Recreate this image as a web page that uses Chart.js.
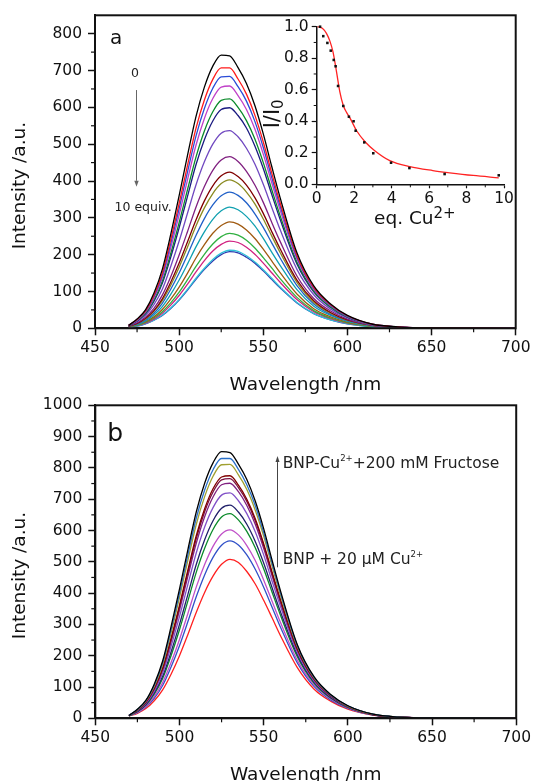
<!DOCTYPE html>
<html><head><meta charset="utf-8">
<script src="https://cdn.jsdelivr.net/npm/chart.js@4.4.1/dist/chart.umd.min.js"></script>
<style>
html,body{margin:0;padding:0;background:#fff;width:534px;height:781px;overflow:hidden;}
canvas{position:absolute;}
#cA{left:0;top:0;} #cB{left:0;top:390px;} #cC{left:250px;top:0;}
</style></head><body>
<canvas id="cA" width="534" height="400"></canvas>
<canvas id="cB" width="534" height="400"></canvas>
<canvas id="cC" width="284" height="240"></canvas>
<script>
// ---------- data ----------
const wavelength = [470,475,480,485,490,495,500,505,510,515,520,525,530,535,540,545,550,555,560,570,580,590,600,615,630,650,700];

// panel a: 0 -> 10 equiv. Cu2+
const a0  = [8,25,50,95,160,255,360,470,575,655,712,742,740,708,665,605,528,440,355,205,115,66,35,11,4,1,0];
const a1  = [8,24,47,89,150,240,339,443,543,620,676,707,707,677,636,579,506,422,341,198,111,64,34,11,4,1,0];
const a2  = [8,23,46,86,144,230,325,425,522,597,652,683,684,656,617,562,491,410,332,193,109,62,33,11,4,1,0];
const a3  = [8,22,44,82,137,218,308,404,497,570,624,655,658,632,594,541,473,396,321,188,106,61,32,10,4,1,0];
const a4  = [7,21,41,77,128,203,287,377,465,536,588,619,623,600,564,514,450,377,306,180,102,58,31,10,3,1,0];
const a5  = [7,20,39,73,122,193,273,359,444,512,563,594,599,578,544,495,434,364,296,175,99,57,30,10,3,1,0];
const a6  = [7,18,35,64,106,168,237,313,389,452,500,530,537,520,489,446,391,329,268,160,91,52,28,9,3,1,0];
const a7  = [6,15,30,54,90,140,199,263,329,385,429,457,466,453,426,389,342,288,236,142,81,47,25,8,3,1,0];
const a8  = [6,13,27,48,80,125,177,235,294,346,387,414,424,412,389,355,312,263,216,131,75,43,23,8,3,1,0];
const a9  = [5,13,25,46,75,117,166,221,278,327,366,393,403,393,370,338,297,251,206,125,71,41,22,7,3,1,0];
const a10 = [5,12,23,41,68,106,150,200,252,298,335,360,370,361,341,311,274,232,191,116,66,38,21,7,2,1,0];
const a11 = [5,10,20,36,59,92,131,175,221,262,296,319,329,322,304,278,244,207,171,105,60,35,19,6,2,1,0];
const a12 = [4,9,18,31,51,79,112,150,191,227,258,279,289,283,267,244,215,183,151,93,53,31,17,6,2,1,0];
const a13 = [4,8,16,28,45,69,98,132,168,201,229,249,258,253,239,218,192,164,135,84,48,28,15,5,2,1,0];
const a14 = [4,7,14,25,41,63,89,120,153,184,210,228,237,233,220,201,177,151,125,78,45,26,14,5,2,0,0];
const a15 = [3,6,13,22,36,55,78,106,136,163,187,204,212,209,197,180,159,136,112,70,40,23,13,4,1,0,0];
const a16 = [3,6,12,22,35,54,77,104,133,160,183,200,208,205,193,177,156,133,110,69,40,23,12,4,1,0,0];

// panel b: BNP + 20 uM Cu2+ -> + 200 mM fructose
const b0  = [9,29,57,109,183,293,413,539,660,752,817,852,849,812,763,694,606,505,407,235,132,75,40,13,4,1,0];
const b1  = [9,28,56,105,177,283,399,522,640,730,795,830,830,795,746,680,593,495,400,232,130,74,40,13,4,1,0];
const b2  = [9,27,54,102,172,273,386,505,620,709,774,810,811,778,731,665,582,486,393,229,128,74,39,13,4,1,0];
const b3  = [9,26,51,96,161,256,361,474,584,670,734,771,775,745,700,638,558,467,379,222,125,72,38,12,4,1,0];
const b4  = [9,26,51,95,158,251,355,466,575,661,724,762,766,737,693,631,552,462,375,220,124,71,38,12,4,1,0];
const b5  = [9,25,49,92,154,244,345,454,560,645,708,746,751,724,680,620,543,455,369,218,123,70,38,12,4,1,0];
const b6  = [9,24,47,87,145,230,325,428,529,612,674,713,720,695,654,596,522,438,357,211,119,69,37,12,4,1,0];
const b7  = [9,22,44,81,134,212,300,396,492,571,632,671,681,659,620,565,496,417,340,203,115,66,36,12,4,1,0];
const b8  = [8,21,42,77,127,200,283,375,467,544,604,643,654,634,597,545,478,403,329,197,112,64,35,11,4,1,0];
const b9  = [8,19,38,69,114,178,252,335,420,492,550,589,602,586,552,504,442,374,306,185,106,61,33,11,4,1,0];
const b10 = [8,18,36,64,105,164,232,309,389,459,515,553,567,554,522,476,419,355,291,177,101,58,32,10,4,1,0];
const b11 = [7,16,31,56,91,141,200,268,339,403,455,492,508,498,469,429,377,321,264,162,93,54,29,10,4,1,0];

// inset: I/I0 vs eq. Cu2+
const eqCu   = [0.18,0.35,0.57,0.75,0.91,1.01,1.14,1.42,1.72,1.97,2.08,2.54,3.02,3.97,4.95,6.83,9.72];
const relI   = [1.0,0.94,0.897,0.848,0.789,0.749,0.624,0.497,0.429,0.40,0.34,0.266,0.197,0.137,0.103,0.065,0.057];
const fitEq  = [0.05,0.3,0.52,0.7,0.87,1.05,1.23,1.42,1.6,1.78,2.14,2.58,3.1,3.9,4.97,6.2,7.1,8.35,9.72];
const fitRel = [1.0,0.99,0.958,0.91,0.84,0.72,0.59,0.5,0.455,0.42,0.338,0.27,0.213,0.15,0.112,0.087,0.073,0.056,0.041];

const seriesA = [a0,a1,a2,a3,a4,a5,a6,a7,a8,a9,a10,a11,a12,a13,a14,a15,a16];
const seriesB = [b0,b1,b2,b3,b4,b5,b6,b7,b8,b9,b10,b11];
const colorsA = ['#000000','#ff1a1a','#2a4bd7','#c040c8','#0a8a2a','#1a1a80','#7048c0','#802080','#800000','#8a8a20','#2060c8','#10a0b0','#a05a10','#30b040','#d02080','#30c0d8','#3038b0'];
const colorsB = ['#000000','#2a70c8','#a0a030','#800000','#7a1040','#802080','#8050c8','#20206a','#0a8a2a','#c050c8','#3050c8','#ff2020'];

const xTitle = 'Wavelength /nm';
const yTitle = 'Intensity /a.u.';

// ---------- helpers ----------
const FAM = "'DejaVu Sans', sans-serif";
Chart.defaults.font.family = FAM;
Chart.defaults.color = '#111';

function rich(ctx, x, y, parts, rot) {
  ctx.save(); ctx.translate(x, y); if (rot) ctx.rotate(rot);
  ctx.textAlign = 'left'; ctx.textBaseline = 'alphabetic';
  let cx = 0;
  for (const p of parts) {
    ctx.font = p.size + 'px ' + FAM; ctx.fillStyle = p.color || '#111';
    ctx.fillText(p.text, cx, p.dy || 0);
    cx += ctx.measureText(p.text).width;
  }
  ctx.restore();
}
function centered(ctx, str, x, y, size, rot) {
  ctx.save(); ctx.translate(x, y); if (rot) ctx.rotate(rot);
  ctx.font = size + 'px ' + FAM; ctx.fillStyle = '#111';
  ctx.textAlign = 'center'; ctx.textBaseline = 'middle';
  ctx.fillText(str, 0, 0); ctx.restore();
}
function arrow(ctx, x, yFrom, yTip, color, hl, hw) {
  x = Math.round(x) + 0.5;
  const dir = Math.sign(yTip - yFrom);
  ctx.save(); ctx.strokeStyle = color; ctx.fillStyle = color; ctx.lineWidth = 1;
  ctx.beginPath(); ctx.moveTo(x, yFrom); ctx.lineTo(x, yTip - dir * hl); ctx.stroke();
  ctx.beginPath(); ctx.moveTo(x, yTip); ctx.lineTo(x - hw, yTip - dir * hl); ctx.lineTo(x + hw, yTip - dir * hl); ctx.closePath(); ctx.fill();
  ctx.restore();
}
const framePlugin = { id: 'frame', afterDraw(chart) {
  const { ctx, chartArea: a } = chart;
  ctx.save(); ctx.strokeStyle = '#111'; ctx.lineWidth = 2;
  ctx.strokeRect(a.left, a.top, a.right - a.left, a.bottom - a.top); ctx.restore();
}};
function minorPlugin(len, width) {
  return { id: 'minor', afterDraw(chart) {
    const ctx = chart.ctx;
    ctx.save(); ctx.strokeStyle = '#111'; ctx.lineWidth = width;
    for (const id of ['x', 'y']) {
      const s = chart.scales[id];
      const v = s.ticks.map(t => t.value);
      for (let i = 0; i < v.length - 1; i++) {
        const p = s.getPixelForValue((v[i] + v[i + 1]) / 2);
        ctx.beginPath();
        if (s.isHorizontal()) { ctx.moveTo(p, s.top); ctx.lineTo(p, s.top + len); }
        else { ctx.moveTo(s.right, p); ctx.lineTo(s.right - len, p); }
        ctx.stroke();
      }
    }
    ctx.restore();
  }};
}

function mainChart(id, series, colors, yMax, padTop, padRight, leftW, ann) {
  return new Chart(document.getElementById(id), {
    type: 'line',
    data: { datasets: series.map((s, i) => ({
      data: wavelength.map((w, j) => ({ x: w, y: s[j] })),
      borderColor: colors[i], borderWidth: 1.3, pointRadius: 0,
      cubicInterpolationMode: 'monotone', fill: false
    })) },
    options: {
      responsive: false, animation: false, devicePixelRatio: 1,
      layout: { padding: { left: 0, top: padTop, right: padRight, bottom: 0 } },
      plugins: { legend: { display: false }, tooltip: { enabled: false } },
      scales: {
        x: { type: 'linear', min: 450, max: 700,
          ticks: { stepSize: 50, font: { size: 15.5 }, color: '#111', padding: 3, maxRotation: 0, autoSkip: false, callback: v => String(v) },
          grid: { drawOnChartArea: false, drawTicks: true, tickLength: 7, tickWidth: 1.5, tickColor: '#111' },
          border: { display: true, color: '#111', width: 2 },
          title: { display: true, text: xTitle, font: { size: 18.5 }, color: '#111', padding: { top: 0, bottom: 4 } },
          afterFit(s) { s.height = 71.7; } },
        y: { type: 'linear', min: 0, max: yMax,
          ticks: { stepSize: 100, font: { size: 15.5 }, color: '#111', padding: 6, callback: v => String(v) },
          afterBuildTicks(s) { s.ticks = s.ticks.filter(t => t.value % 100 === 0); },
          grid: { drawOnChartArea: false, drawTicks: true, tickLength: 7, tickWidth: 1.5, tickColor: '#111' },
          border: { display: true, color: '#111', width: 2 },
          title: { display: false },
          afterFit(s) { s.width = leftW; } }
      }
    },
    plugins: [framePlugin, minorPlugin(4, 1.2), ann]
  });
}

// panel a annotations
const annA = { id: 'annA', afterDraw(chart) {
  const { ctx, scales: { x, y } } = chart;
  centered(ctx, yTitle, y.left + 20.3, y.getPixelForValue(387.5), 18.5, -Math.PI / 2);
  rich(ctx, x.getPixelForValue(458.9), y.getPixelForValue(773), [{ text: 'a', size: 20 }]);
  ctx.save(); ctx.font = '12.5px ' + FAM; ctx.fillStyle = '#222'; ctx.textAlign = 'center';
  ctx.fillText('0', x.getPixelForValue(473.8), y.getPixelForValue(682.8)); ctx.restore();
  arrow(ctx, x.getPixelForValue(474.2), y.getPixelForValue(647), y.getPixelForValue(384.3), '#666', 6, 2.2);
  rich(ctx, x.getPixelForValue(461.6), y.getPixelForValue(318.3), [{ text: '10 equiv.', size: 12.5, color: '#222' }]);
}};
// panel b annotations
const annB = { id: 'annB', afterDraw(chart) {
  const { ctx, scales: { x, y } } = chart;
  centered(ctx, yTitle, y.left + 20.3, y.getPixelForValue(456), 18.5, -Math.PI / 2);
  rich(ctx, x.getPixelForValue(457.1), y.getPixelForValue(885.5), [{ text: 'b', size: 25 }]);
  arrow(ctx, x.getPixelForValue(557.8), y.getPixelForValue(482.3), y.getPixelForValue(837.7), '#444', 6, 2);
  rich(ctx, x.getPixelForValue(561.3), y.getPixelForValue(798.6), [
    { text: 'BNP-Cu', size: 15.5, color: '#222' }, { text: '2+', size: 8.5, dy: -7, color: '#222' },
    { text: '+200 mM Fructose', size: 15.5, color: '#222' }]);
  rich(ctx, x.getPixelForValue(561.3), y.getPixelForValue(493.2), [
    { text: 'BNP + 20 \u03BCM Cu', size: 15.5, color: '#222' }, { text: '2+', size: 8.5, dy: -7, color: '#222' }]);
}};

mainChart('cA', seriesA, colorsA, 850, 15, 18.3, 95, annA);
mainChart('cB', seriesB, colorsB, 1000, 14, 16.5, 95.3, annB);

// inset
const annC = { id: 'annC', afterDraw(chart) {
  const { ctx, scales: { x, y } } = chart;
  rich(ctx, x.getPixelForValue(3.06), y.getPixelForValue(-0.249), [
    { text: 'eq. Cu', size: 18.5 }, { text: '2+', size: 15, dy: -6 }]);
  rich(ctx, x.getPixelForValue(-2.01), y.getPixelForValue(0.355), [
    { text: 'I/I', size: 21 }, { text: '0', size: 15, dy: 4 }], -Math.PI / 2);
}};
new Chart(document.getElementById('cC'), {
  type: 'scatter',
  data: { datasets: [
    { data: eqCu.map((v, i) => ({ x: v, y: relI[i] })), pointStyle: 'rect', pointRadius: 1.8,
      backgroundColor: '#111', borderWidth: 0, showLine: false, clip: false },
    { data: fitEq.map((v, i) => ({ x: v, y: fitRel[i] })), showLine: true, borderColor: '#ff2222',
      borderWidth: 1.3, pointRadius: 0, cubicInterpolationMode: 'monotone', clip: false }
  ] },
  options: {
    responsive: false, animation: false, devicePixelRatio: 1,
    layout: { padding: { left: 0, top: 26.7, right: 30, bottom: 0 } },
    plugins: { legend: { display: false }, tooltip: { enabled: false } },
    scales: {
      x: { type: 'linear', min: 0, max: 10,
        ticks: { stepSize: 2, font: { size: 15.5 }, color: '#111', padding: 1, maxRotation: 0, autoSkip: false },
        grid: { drawOnChartArea: false, drawTicks: true, tickLength: 4, tickWidth: 1.2, tickColor: '#111' },
        border: { display: true, color: '#111', width: 1.5 },
        afterFit(s) { s.height = 55.7; } },
      y: { type: 'linear', min: 0, max: 1,
        ticks: { stepSize: 0.2, font: { size: 15.5 }, color: '#111', padding: 3, callback: v => Number(v).toFixed(1) },
        grid: { drawOnChartArea: false, drawTicks: true, tickLength: 5, tickWidth: 1.2, tickColor: '#111' },
        border: { display: true, color: '#111', width: 1.5 },
        afterFit(s) { s.width = 66.7; } }
    }
  },
  plugins: [minorPlugin(3, 1), annC]
});
</script>
</body></html>
